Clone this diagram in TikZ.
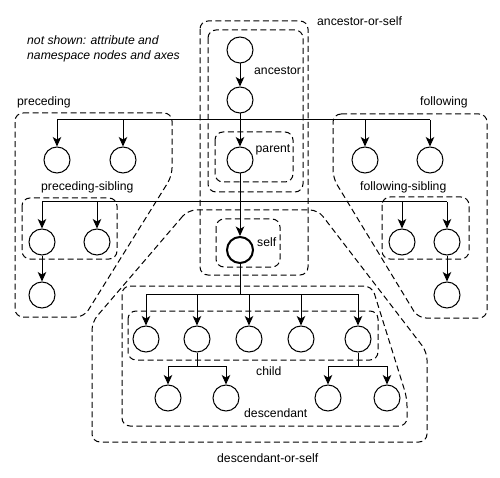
\documentclass[tikz,border=0pt]{standalone}
\usepackage{fontspec}
\setmainfont{Liberation Sans}
\usetikzlibrary{arrows.meta}
\begin{document}
\begin{tikzpicture}[x=1pt,y=-1pt,
  nd/.style={circle,draw,line width=1pt,minimum size=26pt,inner sep=0pt},
  selfnd/.style={nd,line width=2pt},
  conn/.style={line width=1pt},
  arr/.style={conn,-{Stealth[length=9.5pt,width=8.5pt,inset=2.5pt]}},
  region/.style={line width=1pt,dash pattern=on 6pt off 3.5pt,rounded corners=8pt},
  lbl/.style={font=\fontsize{12.2}{15}\selectfont,inner sep=0pt,anchor=base west}
]
\useasboundingbox (0,0) rectangle (500,478);

% dashed regions
\draw[region] (200,21) rectangle (308,275);
\draw[region] (208,30) rectangle (303,192);
\draw[region] (215,132) rectangle (293,182);
\draw[region] (216,219) rectangle (280,267);
\draw[region] (15,113) -- (172,113) -- (172,176) -- (84,317) -- (15,317) -- cycle;
\draw[region] (22,198) rectangle (117,259);
\draw[region] (333,114) -- (487,114) -- (487,318) -- (418,318) -- (333,178) -- cycle;
\draw[region] (382,197) rectangle (469,259);
\draw[region] (188,210) -- (92,322) -- (92,442) -- (427,442) -- (427,352) -- (318,210) -- cycle;
\draw[region] (122,286) -- (372,286) -- (407,398) -- (407,426) -- (122,426) -- cycle;
\draw[region] (128,311) rectangle (378,360);

% nodes
\node[nd] (a1) at (240,50) {};
\node[nd] (a2) at (240,100) {};
\node[nd] (p) at (240,160) {};
\node[selfnd] (s) at (240,250) {};
\node[nd] (pr1) at (57,160) {};
\node[nd] (pr2) at (123,160) {};
\node[nd] (fo1) at (365,160) {};
\node[nd] (fo2) at (430,160) {};
\node[nd] (ps1) at (42,242) {};
\node[nd] (ps2) at (97,242) {};
\node[nd] (psc) at (42,295) {};
\node[nd] (fs1) at (402,242) {};
\node[nd] (fs2) at (447,242) {};
\node[nd] (fsc) at (447,295) {};
\node[nd] (c1) at (146,339) {};
\node[nd] (c2) at (197,339) {};
\node[nd] (c3) at (249,339) {};
\node[nd] (c4) at (301,339) {};
\node[nd] (c5) at (358,339) {};
\node[nd] (d1) at (168,398) {};
\node[nd] (d2) at (226,398) {};
\node[nd] (d3) at (328,398) {};
\node[nd] (d4) at (387,398) {};

% connectors
\draw[arr] (a1) -- (a2);
\draw[arr] (a2) -- (p);
\coordinate (j1) at (240,120);
\draw[conn] (pr1 |- j1) -- (fo2 |- j1);
\foreach \n in {pr1,pr2,fo1,fo2} \draw[arr] (\n |- j1) -- (\n);
\draw[arr] (p) -- (s);
\coordinate (j2) at (240,202);
\draw[conn] (ps1 |- j2) -- (fs2 |- j2);
\foreach \n in {ps1,ps2,fs1,fs2} \draw[arr] (\n |- j2) -- (\n);
\draw[arr] (ps1) -- (psc);
\draw[arr] (fs2) -- (fsc);
\coordinate (j3) at (240,294);
\draw[conn] (s) -- (j3);
\draw[conn] (c1 |- j3) -- (c5 |- j3);
\foreach \n in {c1,c2,c3,c4,c5} \draw[arr] (\n |- j3) -- (\n);
\coordinate (j4) at (197,366);
\draw[conn] (c2) -- (j4);
\draw[conn] (d1 |- j4) -- (d2 |- j4);
\foreach \n in {d1,d2} \draw[arr] (\n |- j4) -- (\n);
\coordinate (j5) at (358,366);
\draw[conn] (c5) -- (j5);
\draw[conn] (d3 |- j5) -- (d4 |- j5);
\foreach \n in {d3,d4} \draw[arr] (\n |- j5) -- (\n);

% labels
\node[lbl] (note1) at (27,44.5) {\itshape not shown: attribute and};
\node[lbl] (note2) at (27,59.5) {\itshape namespace nodes and axes};
\node[lbl] (laos) at (317,25.7) {ancestor-or-self};
\node[lbl] (lanc) at (254,74.5) {ancestor};
\node[lbl] (lpar) at (255.5,153) {parent};
\node[lbl] (lself) at (257,247) {self};
\node[lbl] (lprec) at (17,105.7) {preceding};
\node[lbl] (lfoll) at (420,106) {following};
\node[lbl] (lps) at (41,190.7) {preceding-sibling};
\node[lbl] (lfs) at (360,191) {following-sibling};
\node[lbl] (lchild) at (256,375.7) {child};
\node[lbl] (ldesc) at (244,417) {descendant};
\node[lbl] (ldos) at (217,462) {descendant-or-self};
\end{tikzpicture}
\end{document}
